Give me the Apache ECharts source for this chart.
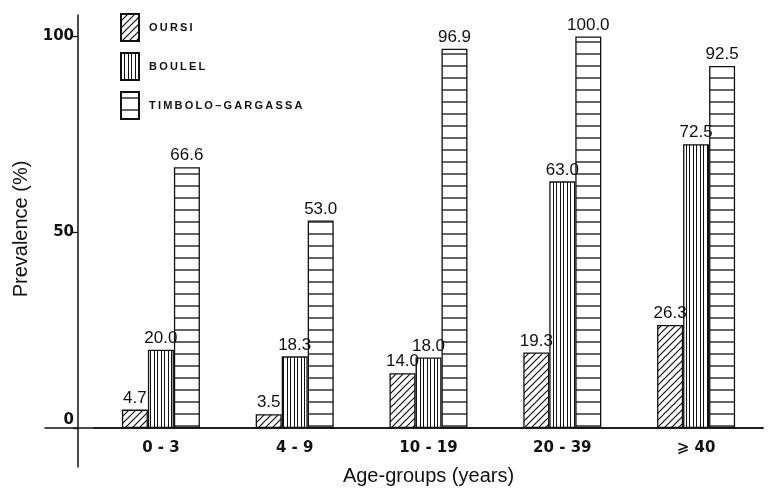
<!DOCTYPE html>
<html>
<head>
<meta charset="utf-8">
<script src="https://cdn.jsdelivr.net/npm/echarts@6/dist/echarts.min.js"></script>
<style>
html,body{margin:0;padding:0;background:#fff;}
#c{width:769px;height:488px;}
</style>
</head>
<body>
<div id="c"></div>
<script>
const categories = ["0 - 3", "4 - 9", "10 - 19", "20 - 39", "\u2A7E 40"];
const seriesNames = ["OURSI", "BOULEL", "TIMBOLO\u2013GARGASSA"];
const oursi = [4.7, 3.5, 14.0, 19.3, 26.3];
const boulel = [20.0, 18.3, 18.0, 63.0, 72.5];
const timbolo = [66.6, 53.0, 96.9, 100.0, 92.5];
const yTicks = [0, 50, 100];

function makePattern(kind) {
  const c = document.createElement('canvas');
  let w, h;
  if (kind === 'diag') { w = 7; h = 7; }
  else if (kind === 'vert') { w = 7; h = 4; }
  else { w = 4; h = 12; }
  c.width = w; c.height = h;
  const g = c.getContext('2d');
  g.fillStyle = '#fff';
  g.fillRect(0, 0, w, h);
  g.strokeStyle = '#111';
  if (kind === 'diag') {
    g.lineWidth = 1.2;
    g.beginPath();
    g.moveTo(-1, h + 1); g.lineTo(w + 1, -1);
    g.moveTo(-1, 1); g.lineTo(1, -1);
    g.moveTo(w - 1, h + 1); g.lineTo(w + 1, h - 1);
    g.stroke();
  } else if (kind === 'vert') {
    g.lineWidth = 1;
    g.beginPath();
    g.moveTo(0.5, 0); g.lineTo(0.5, h);
    g.moveTo(3.5, 0); g.lineTo(3.5, h);
    g.stroke();
  } else {
    g.lineWidth = 1.3;
    g.beginPath();
    g.moveTo(0, 6); g.lineTo(w, 6);
    g.stroke();
  }
  return { image: c, repeat: 'repeat' };
}

const patterns = [makePattern('diag'), makePattern('vert'), makePattern('horiz')];
const values = [oursi, boulel, timbolo];

const chart = echarts.init(document.getElementById('c'), null, { renderer: 'canvas' });

const gridTop = 15;
const yMin = -10, yMax = 105.5;
const hiddenAxis = {
  axisLine: { show: false, onZero: false },
  axisTick: { show: false },
  axisLabel: { show: false },
  splitLine: { show: false }
};

chart.setOption({
  animation: false,
  backgroundColor: '#fff',
  legend: {
    orient: 'vertical',
    left: 115,
    top: 8,
    icon: 'rect',
    itemWidth: 18,
    itemHeight: 27,
    itemGap: 10,
    selectedMode: false,
    formatter: function (n) { return n.split('').join('\u2009'); },
    textStyle: {
      fontFamily: 'Liberation Sans',
      fontWeight: 'bold',
      fontSize: 11,
      color: '#111',
      padding: [0, 0, 0, 5]
    },
    data: seriesNames
  },
  grid: [
    { left: 94, right: 6, top: gridTop, bottom: 60, containLabel: false, outerBoundsMode: 'none' },
    { left: 45, right: 6, top: gridTop, bottom: 60, containLabel: false, outerBoundsMode: 'none' },
    { left: 78, right: 6, top: gridTop, bottom: 21, containLabel: false, outerBoundsMode: 'none' }
  ],
  xAxis: [
    {
      type: 'category',
      gridIndex: 0,
      data: categories,
      boundaryGap: true,
      axisLine: { show: true, onZero: false, lineStyle: { color: '#111', width: 1.5 } },
      axisTick: { show: false },
      axisLabel: {
        margin: 13,
        fontFamily: 'DejaVu Sans',
        fontWeight: 'bold',
        fontSize: 15,
        color: '#111'
      },
      name: 'Age-groups (years)',
      nameLocation: 'middle',
      nameGap: 38,
      nameTextStyle: { fontFamily: 'Liberation Sans', fontSize: 20, color: '#111' }
    },
    {
      type: 'value',
      gridIndex: 1,
      min: 0, max: 1,
      axisLine: { show: true, onZero: false, lineStyle: { color: '#111', width: 1.5 } },
      axisTick: { show: false },
      axisLabel: { show: false },
      splitLine: { show: false }
    },
    Object.assign({ type: 'value', gridIndex: 2, min: 0, max: 1 }, hiddenAxis)
  ],
  yAxis: [
    Object.assign({ type: 'value', gridIndex: 0, min: 0, max: yMax }, hiddenAxis),
    Object.assign({ type: 'value', gridIndex: 1, min: 0, max: yMax }, hiddenAxis),
    {
      type: 'value',
      gridIndex: 2,
      min: yMin,
      max: yMax,
      axisLine: { show: true, onZero: false, lineStyle: { color: '#111', width: 1.5 } },
      axisTick: { show: true, length: 5, customValues: yTicks, lineStyle: { color: '#111', width: 1.3 } },
      axisLabel: {
        customValues: yTicks,
        margin: 4,
        fontFamily: 'DejaVu Sans',
        fontWeight: 'bold',
        fontSize: 15,
        color: '#111',
        formatter: function (v) { return v === 0 ? '{z|0}' : String(v); },
        rich: {
          z: { fontFamily: 'DejaVu Sans', fontWeight: 'bold', fontSize: 15, color: '#111', padding: [0, 0, 16, 0] }
        }
      },
      splitLine: { show: false },
      name: 'Prevalence (%)',
      nameLocation: 'middle',
      nameGap: 44,
      nameTextStyle: { fontFamily: 'Liberation Sans', fontSize: 20, color: '#111', padding: [0, 0, 0, 24] }
    }
  ],
  series: seriesNames.map(function (name, i) {
    return {
      name: name,
      type: 'bar',
      xAxisIndex: 0,
      yAxisIndex: 0,
      data: values[i],
      barWidth: 26,
      barGap: '0%',
      itemStyle: { color: patterns[i], borderColor: '#111', borderWidth: 1.3 },
      label: {
        show: true,
        position: 'top',
        distance: 3,
        formatter: function (p) { return p.value.toFixed(1); },
        fontFamily: 'Liberation Sans',
        fontSize: 17,
        color: '#111'
      }
    };
  })
});
</script>
</body>
</html>
